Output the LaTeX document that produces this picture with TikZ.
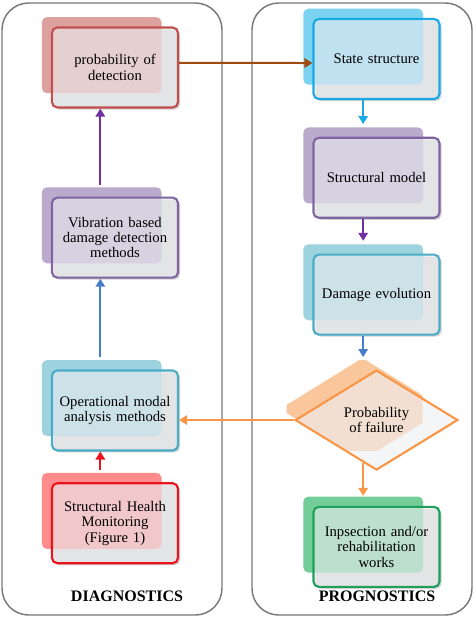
\documentclass[tikz,border=0pt]{standalone}
\usepackage{fontspec}
\setmainfont{Liberation Serif}
\usetikzlibrary{arrows.meta,positioning,shapes.geometric,shadows,backgrounds}
\definecolor{pdred}{RGB}{192,80,77}
\definecolor{pdredbk}{RGB}{217,150,148}
\definecolor{vbpurple}{RGB}{128,100,162}
\definecolor{vbpurplebk}{RGB}{178,161,199}
\definecolor{omteal}{RGB}{75,172,198}
\definecolor{omtealbk}{RGB}{146,205,220}
\definecolor{shmred}{RGB}{232,20,30}
\definecolor{shmredbk}{RGB}{255,128,128}
\definecolor{sscyan}{RGB}{25,170,230}
\definecolor{sscyanbk}{RGB}{110,205,240}
\definecolor{pforange}{RGB}{247,150,70}
\definecolor{pforangebk}{RGB}{250,192,144}
\definecolor{irgreen}{RGB}{30,160,90}
\definecolor{irgreenbk}{RGB}{100,200,140}
\definecolor{cardgray}{RGB}{238,239,242}
\definecolor{panelgray}{RGB}{120,120,120}
\definecolor{lkbrown}{RGB}{160,75,20}
\definecolor{lkpurple}{RGB}{112,48,160}
\definecolor{lkblue}{RGB}{70,125,200}
\tikzset{
  panel/.style={draw=panelgray, line width=1.1pt, rounded corners=20pt},
  paneltitle/.style={font=\bfseries\fontsize{12}{14}\selectfont},
  card/.style 2 args={rectangle, rounded corners=4pt, draw=#1, line width=1.6pt, fill=cardgray, fill opacity=0.62, text opacity=1, minimum width=94.5pt, minimum height=60pt, text width=86pt, align=center, font=\fontsize{11}{11.5}\selectfont,
    drop shadow={shadow xshift=1.5pt, shadow yshift=-1.5pt, opacity=0.18, fill=black},
    general shadow={fill=#2, opacity=0.9, shadow xshift=-10.5pt, shadow yshift=9.75pt, shadow scale=0.95, rounded corners=3pt}},
  decisionbox/.style={diamond, aspect=1.63, draw=#1, line width=1.6pt, fill=cardgray, fill opacity=0.62, text opacity=1, minimum width=122pt, minimum height=75pt, inner sep=0pt, align=center, font=\fontsize{11}{11.5}\selectfont},
  link/.style={-{Triangle[length=6pt,width=7pt]}, line width=1.5pt}
}
\begin{document}
\begin{tikzpicture}[x=0.75pt, y=-0.75pt]
\useasboundingbox (0,0) rectangle (474,618);
% panels
\draw[panel] (2,3) rectangle (222,615);
\draw[panel] (252,3) rectangle (472,615);
\node[paneltitle] (diag) at (127,596) {DIAGNOSTICS};
\node[paneltitle] (prog) at (377,596) {PROGNOSTICS};
% diagnostics column
\node[card={pdred}{pdredbk}] (prob) at (115,67.5) {probability of\\detection};
\node[card={vbpurple}{vbpurplebk}, below=66pt of prob] (vib) {Vibration based\\damage detection\\methods};
\node[card={omteal}{omtealbk}, below=68pt of vib] (oper) {Operational modal\\analysis methods};
\node[card={shmred}{shmredbk}, below=23pt of oper] (shm) {Structural Health\\Monitoring\\(Figure 1)};
% prognostics column
\node[card={sscyan}{sscyanbk}] (state) at (376.5,59) {State structure};
\node[card={vbpurple}{vbpurplebk}, below=27.5pt of state] (model) {Structural model};
\node[card={omteal}{omtealbk}, below=26pt of model] (damage) {Damage evolution};
\node[decisionbox=pforange, below=25pt of damage] (decide) {Probability\\of failure};
\node[card={irgreen}{irgreenbk}, below=26pt of decide] (inspect) {Inpsection and/or\\rehabilitation\\works};
% back of the diamond, cut to a box
\begin{scope}[on background layer]
\clip ([xshift=-67.5pt,yshift=45pt]decide.center) rectangle ([xshift=34.5pt,yshift=-22.5pt]decide.center);
\fill[pforangebk, opacity=0.9] ([xshift=-10.5pt,yshift=8.25pt]decide.north) -- ([xshift=-10.5pt,yshift=8.25pt]decide.east) -- ([xshift=-10.5pt,yshift=8.25pt]decide.south) -- ([xshift=-10.5pt,yshift=8.25pt]decide.west) -- cycle;
\end{scope}
% connectors
\draw[link, draw=lkbrown] ([yshift=3.4pt]prob.east) -- ([yshift=-3pt]state.west);
\draw[link, draw=lkpurple] ([xshift=-11pt,yshift=9pt]vib.north) -- ([xshift=-11pt]prob.south);
\draw[link, draw=lkblue] ([xshift=-11pt,yshift=9pt]oper.north) -- ([xshift=-11pt]vib.south);
\draw[link, draw=shmred] ([xshift=-11pt,yshift=9pt]shm.north) -- ([xshift=-11pt]oper.south);
\draw[link, draw=sscyan] ([xshift=-10pt]state.south) -- ([xshift=-10pt,yshift=9.5pt]model.north);
\draw[link, draw=lkpurple] ([xshift=-10pt]model.south) -- ([xshift=-10pt,yshift=9.5pt]damage.north);
\draw[link, draw=lkblue] ([xshift=-10pt]damage.south) -- ([xshift=-10pt,yshift=9pt]decide.north);
\draw[link, draw=pforange] (decide.west) -- (decide.west -| oper.east);
\draw[link, draw=pforange] ([xshift=-10pt,yshift=6pt]decide.south) -- ([xshift=-10pt,yshift=7.5pt]inspect.north);
\end{tikzpicture}
\end{document}
